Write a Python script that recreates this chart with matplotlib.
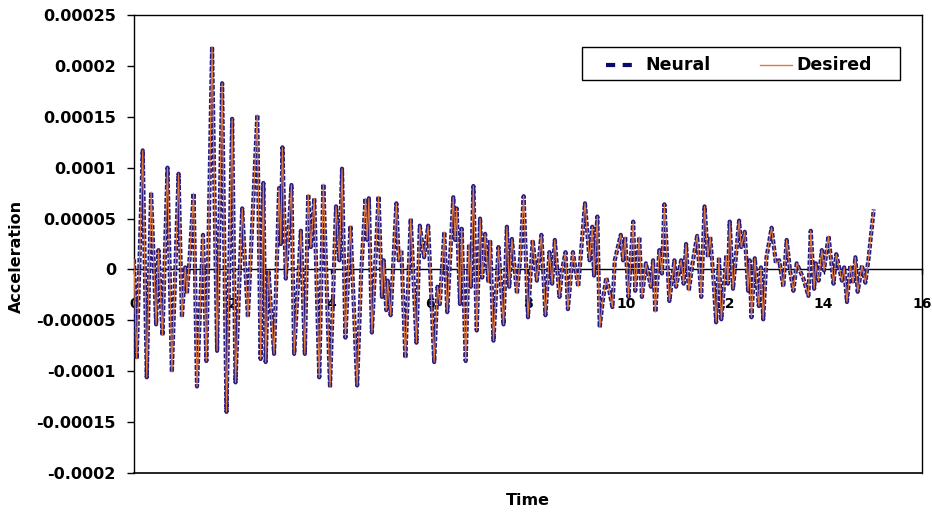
import matplotlib
matplotlib.use("Agg")
import matplotlib.pyplot as plt
from matplotlib.lines import Line2D
from matplotlib.patches import Rectangle
import numpy as np

# tiempo (s) y aceleracion (x 1e-5): picos y valles
tiempo = [
    0.00, 0.054, 0.177, 0.259, 0.347, 0.449, 0.497, 0.578, 0.680, 0.769,
    0.905, 0.973, 1.041, 1.075, 1.13, 1.211, 1.279, 1.401, 1.469, 1.585,
    1.687, 1.789, 1.878, 1.993, 2.061, 2.197, 2.313, 2.503, 2.571, 2.626,
    2.673, 2.73, 2.844, 2.946, 2.98, 3.014, 3.082, 3.197, 3.252, 3.388,
    3.469, 3.537, 3.59, 3.66, 3.762, 3.844, 3.98,
    4.102, 4.17, 4.224, 4.293, 4.395, 4.531, 4.612, 4.701, 4.735, 4.769,
    4.830, 4.966, 5.034, 5.07, 5.122, 5.15, 5.211, 5.327, 5.375, 5.429,
    5.510, 5.619, 5.735, 5.803, 5.89, 5.973, 6.095, 6.163, 6.21, 6.30,
    6.361, 6.483, 6.52, 6.551, 6.619, 6.653, 6.735, 6.803, 6.84, 6.891,
    6.959, 7.027, 7.07, 7.129, 7.197, 7.231, 7.299, 7.401, 7.503, 7.571,
    7.619, 7.673, 7.776, 7.843, 7.912, 8.0, 8.095, 8.18, 8.272, 8.354,
    8.435, 8.49, 8.544, 8.639, 8.69, 8.762, 8.81, 8.912, 9.02, 9.157,
    9.25, 9.306, 9.34, 9.408, 9.456, 9.52, 9.59, 9.647, 9.714, 9.762,
    9.884, 9.93, 9.973, 10.04, 10.136, 10.177, 10.259, 10.313, 10.394, 10.496,
    10.54, 10.585, 10.667, 10.72, 10.769, 10.871, 10.973, 11.006, 11.11, 11.16,
    11.21, 11.265, 11.35, 11.435, 11.517,
    11.585, 11.653, 11.70, 11.769, 11.82, 11.878, 11.925, 12.027, 12.06, 12.095,
    12.163, 12.286, 12.33, 12.401, 12.469, 12.50, 12.537, 12.605, 12.687, 12.73,
    12.776, 12.843, 12.946, 13.034, 13.10, 13.184, 13.252, 13.32, 13.388, 13.456,
    13.592, 13.694, 13.741, 13.81, 13.844, 13.9, 13.966, 14.01, 14.102, 14.204,
    14.259, 14.374, 14.42, 14.476, 14.545, 14.60, 14.647, 14.694, 14.782, 14.85,
    14.918, 15.02,
]
deseada = [
    1.0, -8.8, 11.7, -10.6, 7.6, -5.4, 1.9, -6.5, 10.0, -10.1,
    9.4, -4.7, 0.2, -2.4, 1.2, 7.5, -11.5, 3.4, -9.0, 21.9,
    -8.0, 18.3, -14.0, 14.8, -11.1, 6.0, -4.7, 15.2, -8.8, 8.5,
    -9.1, -0.1, -8.3, 8.0, 2.5, 12.0, -0.9, 8.3, -8.3, 3.8,
    -8.3, 7.4, 2.2, 7.0, -10.6, 8.4, -11.6,
    6.2, 0.9, 9.9, -6.7, 4.3, -11.4, -0.4, 7.0, 2.9, 7.0,
    -6.2, 7.2, -2.7, 0.9, -4.0, -1.1, -4.5, 6.5, 0.9, 1.9,
    -8.7, 5.0, -7.2, 4.3, 1.2, 4.3, -9.1, -1.7, -3.4, 3.7,
    -4.2, 7.1, 2.9, 6.0, -3.4, 4.0, -9.0, 2.5, -1.7, 8.2,
    -6.0, 5.0, -0.8, 3.5, -1.3, 2.9, -7.0, 2.2, -5.4, 4.2,
    -1.7, 3.0, -2.4, 1.2, 7.2, -4.7, 2.9, -1.1, 3.4, -4.5,
    1.7, -1.4, 2.9, -2.7, -0.1, 1.7, -3.9, 1.7, -1.7, 6.5,
    0.9, 4.2, -0.6, 5.2, -5.7, -3.0, -0.8, -2.0, -3.7, 0.9,
    3.4, 0.9, 3.2, -2.7, 4.7, -2.1, 3.2, -2.7, 0.6, -1.7,
    0.9, -4.2, 1.9, -0.4, 6.4, -3.1, 0.9, -1.7, 0.9, -1.4,
    2.5, -2.1, 0.9, 3.3, -2.7,
    6.2, 1.2, 3.2, -1.1, -5.2, 1.2, -4.9, 1.4, -1.4, 4.7,
    -1.9, 4.8, 2.2, 3.7, -2.1, 0.9, -4.7, 1.1, -3.6, 0.2,
    -4.9, 1.2, 4.1, 0.6, 0.9, -1.7, 2.9, -0.1, -2.1, 0.6,
    -0.9, -2.6, 3.8, -1.9, 0.6, -1.1, 1.9, -0.1, 3.3, -1.4,
    1.5, -1.1, 0.2, -3.2, 0.4, -1.4, 1.2, -2.2, 0.4, -1.3,
    1.2, 5.9,
]
neural = list(deseada)  # la red sigue a la deseada casi exacto

yticks = [0.00025, 0.0002, 0.00015, 0.0001, 0.00005, 0, -0.00005, -0.0001, -0.00015, -0.0002]
yetiquetas = ['0.00025', '0.0002', '0.00015', '0.0001', '0.00005', '0',
              '-0.00005', '-0.0001', '-0.00015', '-0.0002']
xticks = [0, 2, 4, 6, 8, 10, 12, 14, 16]

plt.rcParams['font.family'] = 'DejaVu Sans'
plt.rcParams['font.weight'] = 'bold'

t = np.array(tiempo)
des = np.array(deseada) * 1e-5
neu = np.array(neural) * 1e-5

W, H = 932, 514
fig = plt.figure(figsize=(W/100, H/100), dpi=100)
ax = fig.add_axes([134/W, 1-473/H, (922-134)/W, (473-15)/H])

azul = '#241c84'
naranja = '#e07a3a'
ax.plot(t, neu, color=azul, lw=3.0, dashes=(1.1, 0.42), dash_capstyle='butt', zorder=3)
ax.plot(t, des, color=naranja, lw=0.8, zorder=4)

ax.set_xlim(0, 16)
ax.set_ylim(-0.0002, 0.00025)
ax.set_yticks(yticks)
ax.set_yticklabels(yetiquetas, fontsize=11.5, fontweight='bold')
ax.set_xticks(xticks)
ax.set_xticklabels([str(v) for v in xticks], fontsize=11.5, fontweight='bold')

ax.spines['bottom'].set_position(('data', 0))
ax.spines['bottom'].set_zorder(2)
for s in ['left', 'top', 'right', 'bottom']:
    ax.spines[s].set_linewidth(1.0)
# borde inferior del area de grafico
ax.plot([0, 1], [0, 0], transform=ax.transAxes, color='black', lw=1.2, clip_on=False)

ax.tick_params(axis='y', direction='out', length=5, width=1, pad=8)
ax.tick_params(axis='x', direction='out', length=3.5, width=1, pad=16)

ax.set_ylabel('Acceleration', fontsize=11.5, fontweight='bold')
ax.yaxis.set_label_coords(-0.140, 0.472)
ax.set_xlabel('Time', fontsize=11.5, fontweight='bold')
ax.xaxis.set_label_coords(0.5, -0.043)

# leyenda dibujada a mano (caja, muestras y textos)
fig.patches.append(Rectangle((582/W, 1-80/H), (900-582)/W, 33/H, transform=fig.transFigure,
                             facecolor='white', edgecolor='black', lw=1.0, zorder=5))
ly = 1 - 65/H
fig.lines.append(Line2D([606/W, 633/W], [ly, ly], transform=fig.transFigure,
                        color='#0a0a6a', lw=3, dashes=(2.2, 1.8), zorder=6))
fig.text(645/W, ly, 'Neural', fontsize=12.5, fontweight='bold', va='center', ha='left', zorder=6)
fig.lines.append(Line2D([760/W, 792/W], [ly, ly], transform=fig.transFigure,
                        color=naranja, lw=1.0, zorder=6))
fig.text(796/W, ly, 'Desired', fontsize=12.5, fontweight='bold', va='center', ha='left', zorder=6)

fig.savefig('out.png', dpi=100)
